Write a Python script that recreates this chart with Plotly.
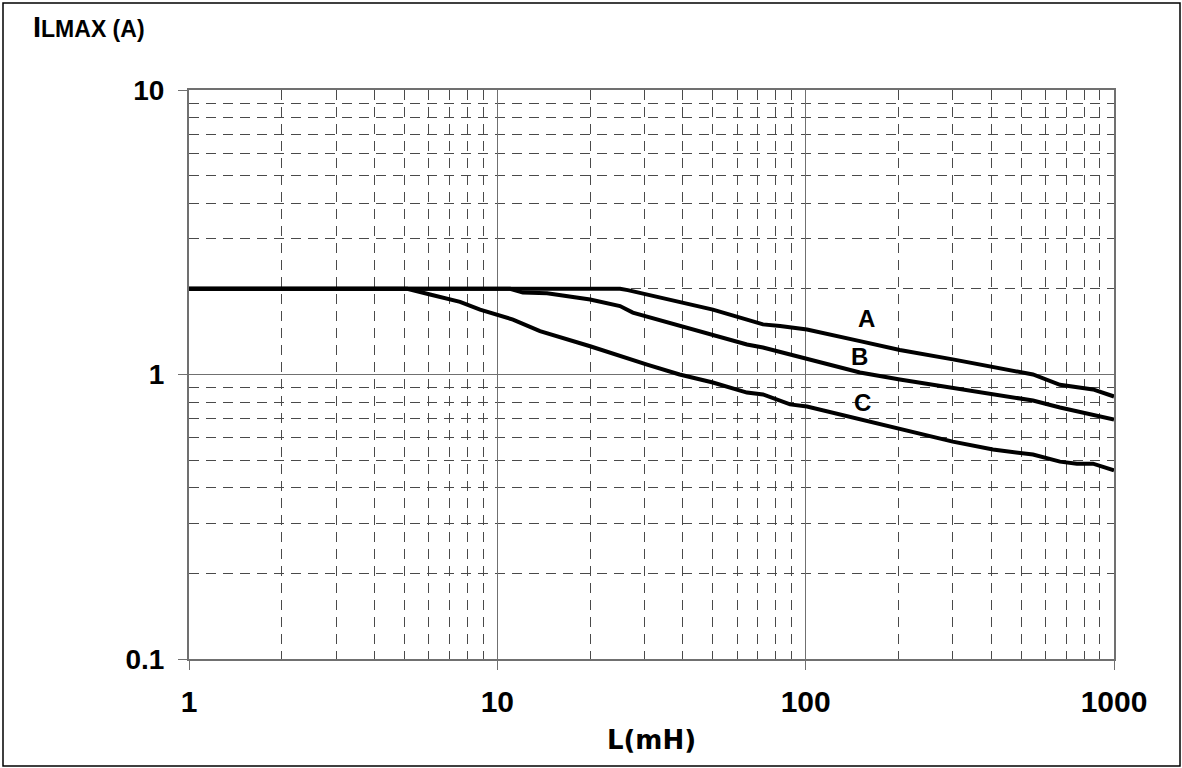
import math
import plotly.graph_objects as go

# Data
L_A = [1, 25, 26.5, 30.6, 39, 50, 64.5, 72.7, 82.6, 101, 150, 202, 300, 405, 546, 668, 855, 1000]
I_A = [2.0, 2.0, 1.98, 1.91, 1.81, 1.69, 1.56, 1.50, 1.48, 1.44, 1.31, 1.22, 1.13, 1.06, 1.0, 0.92, 0.886, 0.837]

L_B = [1, 11, 12.1, 14.5, 20, 25, 27.5, 34.5, 50, 64.5, 72.7, 82.6, 101, 150, 202, 300, 405, 546, 668, 1000]
I_B = [2.0, 2.0, 1.94, 1.93, 1.835, 1.74, 1.65, 1.54, 1.38, 1.275, 1.244, 1.20, 1.129, 1.016, 0.96, 0.90, 0.851, 0.81, 0.766, 0.695]

L_C = [1, 5.1, 6.05, 7.57, 8.79, 9.97, 11.24, 13.75, 20, 30.6, 39, 50, 64.5, 72.7, 82.6, 89, 101, 150, 202, 300, 405, 546, 668, 758, 855, 1000]
I_C = [2.0, 2.0, 1.91, 1.80, 1.69, 1.625, 1.56, 1.42, 1.257, 1.084, 1.0, 0.937, 0.864, 0.851, 0.81, 0.785, 0.772, 0.695, 0.641, 0.581, 0.545, 0.523, 0.494, 0.486, 0.486, 0.460]

label_names = ["A", "B", "C"]
label_L = [157, 150, 153]
label_I = [1.57, 1.16, 0.80]

x_ticks = [1, 10, 100, 1000]
x_ticktext = ["1", "10", "100", "1000"]
y_ticks = [0.1, 1, 10]
y_ticktext = ["0.1", "1", "10"]

ARIAL = "Arial, Liberation Sans"

fig = go.Figure()
for Ls, Is in [(L_A, I_A), (L_B, I_B), (L_C, I_C)]:
    fig.add_trace(go.Scatter(x=Ls, y=Is, mode="lines",
                             line=dict(color="black", width=4),
                             showlegend=False, hoverinfo="skip"))

for n, lx, ly in zip(label_names, label_L, label_I):
    fig.add_annotation(x=math.log10(lx), y=math.log10(ly), xref="x", yref="y", text="<b>%s</b>" % n,
                       showarrow=False, font=dict(family=ARIAL, size=24, color="black"))

minor_style = dict(dtick="D1", showgrid=True, gridcolor="#4a4a4a", griddash="10px,7px", gridwidth=1, ticks="")

fig.update_xaxes(type="log", range=[0, 3], tickvals=x_ticks, ticktext=[f"<b>{t}</b>" for t in x_ticktext],
                 tickfont=dict(family=ARIAL, size=30, color="black"),
                 showgrid=True, gridcolor="#707070", gridwidth=1,
                 ticks="outside", ticklen=9, tickcolor="#707070",
                 showline=True, linecolor="#707070", linewidth=2, mirror=True,
                 minor=minor_style, ticklabelstandoff=6,
                 title=dict(text="<b>L(mH)</b>", font=dict(family="DejaVu Sans", size=26, color="black"), standoff=14),
                 zeroline=False)
fig.update_yaxes(type="log", range=[-1, 1], tickvals=y_ticks, ticktext=[f"<b>{t}</b>" for t in y_ticktext],
                 tickfont=dict(family=ARIAL, size=28, color="black"),
                 showgrid=True, gridcolor="#707070", gridwidth=1,
                 ticks="outside", ticklen=9, tickcolor="#707070",
                 showline=True, linecolor="#707070", linewidth=2, mirror=True,
                 minor=minor_style, ticklabelstandoff=8,
                 zeroline=False)

fig.add_annotation(xref="paper", yref="paper", x=(31 - 189) / 925, y=(659 - 27) / 569,
                   xanchor="left", yanchor="middle", showarrow=False,
                   text="<b><span style='font-size:29px'>I</span>LMAX (A)</b>",
                   font=dict(family=ARIAL, size=23, color="black"))

fig.add_shape(type="rect", xref="paper", yref="paper",
              x0=(3 - 189) / 925, x1=(1180 - 189) / 925,
              y0=(659 - 766) / 569, y1=(659 - 3) / 569,
              line=dict(color="black", width=1.5), layer="above")

fig.update_layout(width=1182, height=768, margin=dict(l=189, r=68, t=90, b=109),
                  plot_bgcolor="white", paper_bgcolor="white",
                  font=dict(family=ARIAL))

fig.write_html("out.html", config={"displayModeBar": False},
               post_script="document.body.style.margin='0';document.body.style.overflow='hidden';")
